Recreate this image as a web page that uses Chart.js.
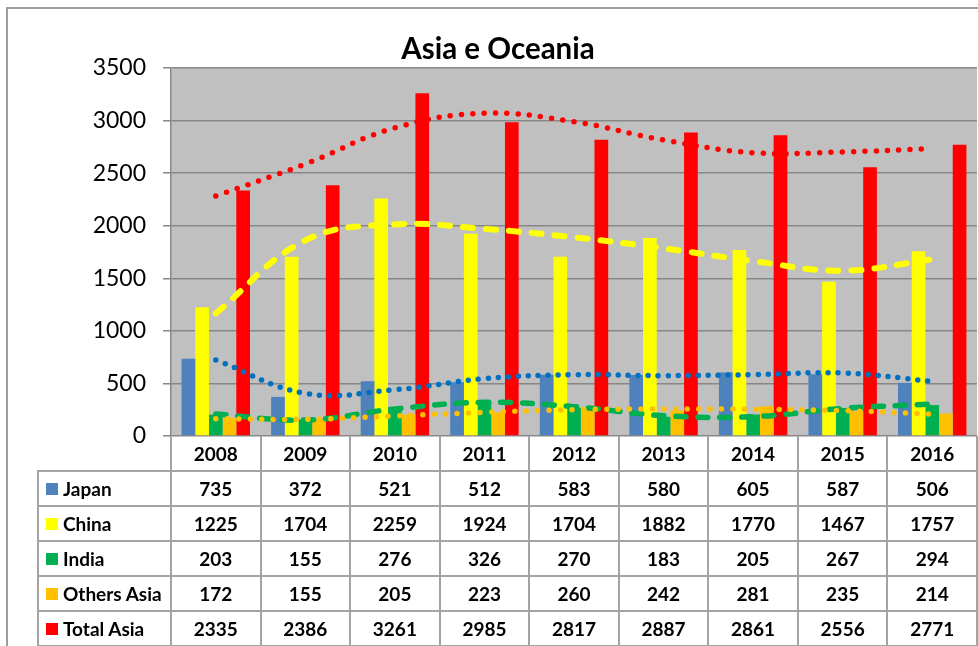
<!DOCTYPE html>
<html>
<head>
<meta charset="utf-8">
<script src="https://cdn.jsdelivr.net/npm/chart.js@4.4.1/dist/chart.umd.min.js"></script>
<style>
html,body{margin:0;padding:0;background:#fff;}
#wrap{position:relative;width:978px;height:646px;overflow:hidden;font-family:Lato,"Liberation Sans",sans-serif;}
#frame{position:absolute;left:6px;top:7px;width:1200px;height:900px;border-left:2px solid #9c9c9c;border-top:2px solid #9c9c9c;box-sizing:border-box;}
#title{position:absolute;left:0;width:996px;top:30px;height:36px;line-height:36px;text-align:center;font-weight:bold;font-size:29.5px;color:#000;}
#chart{position:absolute;left:0;top:0;}
#table{position:absolute;left:0;top:0;width:978px;height:646px;}
.hl{position:absolute;height:2px;background:#a3a3a3;}
.vl{position:absolute;width:2px;background:#a3a3a3;}
.cell{position:absolute;display:flex;align-items:center;justify-content:center;font-weight:bold;font-size:19px;color:#000;white-space:nowrap;}
.lab{position:absolute;display:flex;align-items:center;font-weight:bold;font-size:19px;color:#000;white-space:nowrap;}
.sq{display:inline-block;width:12px;height:12px;margin-right:5px;}
</style>
</head>
<body>
<div id="wrap">
  <canvas id="chart" width="978" height="646"></canvas>
  <div id="frame"></div>
  <div id="title">Asia e Oceania</div>
  <div id="table"></div>
</div>
<script>
const categories = ['2008','2009','2010','2011','2012','2013','2014','2015','2016'];
const seriesNames = ['Japan','China','India','Others Asia','Total Asia'];
const seriesColors = ['#4F81BD','#FFFF00','#00B050','#FFC000','#FF0000'];
const trendColors = ['#0070C0','#FFFF00','#00B050','#FFC000','#FF0000'];
const japan      = [735, 372, 521, 512, 583, 580, 605, 587, 506];
const china      = [1225, 1704, 2259, 1924, 1704, 1882, 1770, 1467, 1757];
const india      = [203, 155, 276, 326, 270, 183, 205, 267, 294];
const othersAsia = [172, 155, 205, 223, 260, 242, 281, 235, 214];
const totalAsia  = [2335, 2386, 3261, 2985, 2817, 2887, 2861, 2556, 2771];
// trendline values at each category
const japanTrend  = [723, 405, 440, 545, 583, 574, 583, 599, 520];
const chinaTrend  = [1167, 1860, 2013, 1969, 1890, 1785, 1664, 1572, 1680];
const indiaTrend  = [209, 152, 257, 320, 279, 193, 184, 262, 304];
const othersTrend = [165, 159, 190, 225, 250, 257, 255, 241, 209];
const totalTrend  = [2283, 2587, 2932, 3069, 2989, 2815, 2694, 2701, 2735];
const yMin = 0, yMax = 3500, yStep = 500;

const seriesData = [japan, china, india, othersAsia, totalAsia];
const trendData = [japanTrend, chinaTrend, indiaTrend, othersTrend, totalTrend];
const trendStyles = [
  {w:5.5, dash:[0,10]},
  {w:6, dash:[10,13]},
  {w:5.5, dash:[10,12]},
  {w:5.5, dash:[0,11.5]},
  {w:5.5, dash:[0,11.3]}
];

const plotBg = {
  id:'plotBg',
  beforeDraw(chart){
    const a = chart.chartArea, c = chart.ctx;
    c.save(); c.fillStyle = '#C0C0C0';
    c.fillRect(a.left, a.top, a.right - a.left, a.bottom - a.top);
    c.restore();
  }
};

const datasets = [];
// pushed last-series-first so the first series' trend is painted first (underneath)
for (let i = trendData.length - 1; i >= 0; i--) {
  datasets.push({
    type:'line', label: seriesNames[i] + ' trend', data:trendData[i],
    borderColor: trendColors[i], borderWidth: trendStyles[i].w,
    borderDash: trendStyles[i].dash, borderCapStyle:'round',
    pointRadius:0, tension:0.4, fill:false, order:0
  });
}
seriesData.forEach((d,i)=>{
  datasets.push({
    type:'bar', label: seriesNames[i], data:d,
    backgroundColor: seriesColors[i], borderWidth:0,
    categoryPercentage:0.764, barPercentage:1.0, order:1
  });
});

Chart.defaults.font.family = 'Lato, "Liberation Sans", sans-serif';
const chart = new Chart(document.getElementById('chart'), {
  data:{ labels: categories, datasets },
  options:{
    responsive:false, animation:false,
    layout:{ padding:{ top:68, left:0, right:1, bottom:210 } },
    plugins:{ legend:{display:false}, title:{display:false}, tooltip:{enabled:false} },
    scales:{
      x:{ type:'category', display:false, offset:true },
      y:{
        min:yMin, max:yMax,
        ticks:{ stepSize:yStep, color:'#000', font:{size:23}, padding:17,
                callback:(v)=>String(v) },
        grid:{ color:'#878787', lineWidth:1.5, tickLength:8, drawTicks:true },
        border:{ display:true, color:'#878787', width:1.5 },
        afterFit(s){ s.width = 171; }
      }
    }
  },
  plugins:[plotBg]
});

// data table below the plot, aligned with the category axis
(function buildTable(){
  const host = document.getElementById('table');
  const xs = chart.scales.x;
  const area = chart.chartArea;
  const n = categories.length;
  const cw = (area.right - area.left) / n;
  const top0 = Math.round(area.bottom);
  const rowH = 35;
  const tableLeft = 38;
  const add = (cls, style, html) => {
    const d = document.createElement('div'); d.className = cls;
    Object.assign(d.style, style); if (html !== undefined) d.innerHTML = html;
    host.appendChild(d); return d;
  };
  for (let k = 0; k <= n; k++) {
    const x = area.left + k * cw;
    add('vl', {left:(x-1)+'px', top:top0+'px', height:(646-top0)+'px'});
  }
  add('vl', {left:(tableLeft-1)+'px', top:(top0+rowH)+'px', height:(646-top0-rowH)+'px'});
  for (let r = 1; r <= seriesNames.length + 1; r++) {
    const y = top0 + r * rowH;
    add('hl', {left:(tableLeft-1)+'px', top:(y-1)+'px', width:(area.right - tableLeft + 2)+'px'});
  }
  categories.forEach((c,i)=>{
    const cx = xs.getPixelForValue(i);
    add('cell', {left:(cx-cw/2)+'px', top:top0+'px', width:cw+'px', height:rowH+'px'}, c);
  });
  seriesNames.forEach((name,r)=>{
    const y = top0 + (r+1)*rowH;
    add('lab', {left:'46px', top:y+'px', height:rowH+'px'},
      '<span class="sq" style="background:'+seriesColors[r]+'"></span>' + name);
    seriesData[r].forEach((v,i)=>{
      const cx = xs.getPixelForValue(i);
      add('cell', {left:(cx-cw/2)+'px', top:y+'px', width:cw+'px', height:rowH+'px'}, String(v));
    });
  });
})();
</script>
</body>
</html>
